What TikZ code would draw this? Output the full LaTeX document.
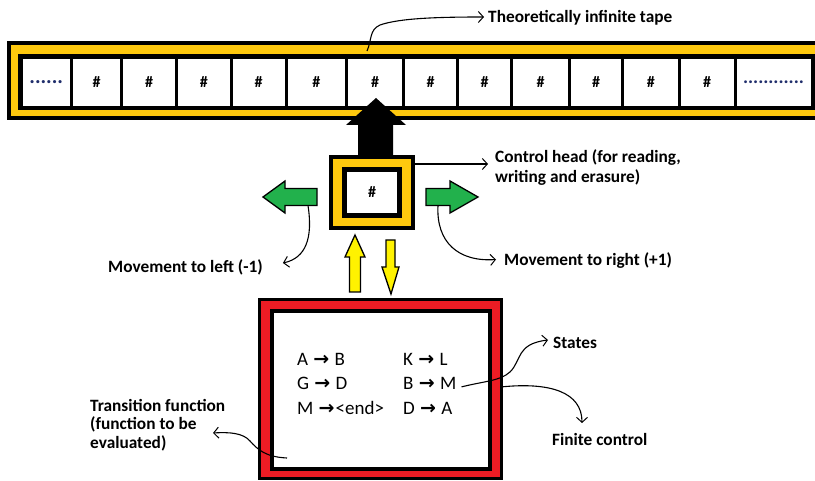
\documentclass[tikz,border=0pt]{standalone}
\usepackage{fontspec}
\setmainfont{Carlito}
\newfontfamily\symfont{DejaVu Sans}
\usetikzlibrary{arrows.meta,calc}
\definecolor{tapeyellow}{HTML}{FFC90E}
\definecolor{arrowyellow}{HTML}{FFF200}
\definecolor{movegreen}{HTML}{22B14C}
\definecolor{boxred}{HTML}{ED1C24}
\definecolor{dotblue}{HTML}{1F2D6B}
\newcommand{\tr}{\kern1pt{\symfont\bfseries\fontsize{19}{20}\selectfont →}\kern1pt}
\begin{document}
\begin{tikzpicture}[x=1pt,y=-1pt,
  lbl/.style={font=\bfseries\fontsize{17.3}{20}\selectfont, inner sep=0pt, align=left},
  cellbox/.style={fill=white, inner sep=0pt, minimum height=47pt, font=\bfseries\fontsize{16}{18}\selectfont},
  rule/.style={anchor=base west, inner sep=0pt, font=\fontsize{19}{22}\selectfont},
  conn/.style={-{Straight Barb[length=5pt,width=11pt,line width=1pt]}, line width=1.1pt},
  shapeline/.style={draw=black, line width=1.3pt, line join=miter}]
\useasboundingbox (0,0) rectangle (815,481);

% ---- tape ----
\begin{scope}
  \clip (0,0) rectangle (815,481);
  \fill[black] (7,41) rectangle (830,120);
  \fill[tapeyellow] (11,45) rectangle (830,116);
  \fill[black] (18,54) rectangle (830,110);
  \foreach \a/\b/\t [count=\i] in {21/71.5/{\textcolor{dotblue}{\fontsize{21}{22}\selectfont......}},
      71.5/121.5/\#, 121.5/176.5/\#, 176.5/231/\#, 231/286/\#, 286/346.5/\#,
      346.5/403.5/\#, 403.5/457.5/\#, 457.5/511.5/\#, 511.5/569.5/\#,
      569.5/622.5/\#, 622.5/679/\#, 679/735/\#,
      735/812/{\textcolor{dotblue}{\fontsize{19}{20}\selectfont............}}}{
    \pgfmathsetmacro{\cx}{(\a+\b)/2}
    \pgfmathsetmacro{\w}{\b-\a-3}
    \node[cellbox, minimum width=\w pt] (cell\i) at (\cx,82.5) {\t};
  }
\end{scope}

% ---- head pointer towards the tape ----
\fill[black] (376,98) -- (406,125) -- (393,125) -- (393,157) -- (358,157)
  -- (358,125) -- (346,125) -- cycle;

% ---- control head ----
\node[draw=black, line width=4pt, fill=tapeyellow, minimum width=82pt,
  minimum height=71pt, inner sep=0pt] (head) at (372,192.5) {};
\node[draw=black, line width=5pt, fill=white, minimum width=55pt,
  minimum height=46pt, inner sep=0pt, font=\bfseries\fontsize{16}{18}\selectfont]
  (headcell) at (372,192.5) {\#};

% ---- movement arrows ----
\draw[shapeline, fill=movegreen] (263,197) -- (285,181) -- (285,188.5) -- (317,188.5)
  -- (317,205.5) -- (285,205.5) -- (285,213) -- cycle;
\draw[shapeline, fill=movegreen] (478,197) -- (450,181) -- (450,188.5) -- (426,188.5)
  -- (426,205.5) -- (450,205.5) -- (450,213) -- cycle;
\coordinate (leftfoot) at (308,205.5);
\coordinate (rightfoot) at (438,205.5);

% ---- read / write arrows ----
\draw[shapeline, fill=arrowyellow] (355,235) -- (365,257) -- (360.5,257) -- (360.5,292)
  -- (349.5,292) -- (349.5,257) -- (345,257) -- cycle;
\draw[shapeline, fill=arrowyellow] (391,294) -- (399,267) -- (395,267) -- (395,240)
  -- (386,240) -- (386,267) -- (382,267) -- cycle;

% ---- finite control ----
\node[draw=black, line width=3pt, fill=boxred, minimum width=242pt,
  minimum height=179pt, inner sep=0pt] (control) at (380.5,389) {};
\node[draw=black, line width=4pt, fill=white, minimum width=218pt,
  minimum height=158pt, inner sep=0pt] (table) at (381,390) {};

\node[rule] (r1) at (297,366) {A \tr{} B};
\node[rule] (r2) at (297,390) {G \tr{} D};
\node[rule] (r3) at (297,414) {M \tr{}<end>};
\node[rule] (r4) at (403,366) {K \tr{} L};
\node[rule] (r5) at (403,390) {B \tr{} M};
\node[rule] (r6) at (403,414) {D \tr{} A};
\coordinate (tfoot) at (287,458);

% ---- labels ----
\node[lbl, anchor=west] (tapelbl) at (488,18) {Theoretically infinite tape};
\node[lbl, anchor=west, font=\bfseries\fontsize{17.3}{19.5}\selectfont] (ctrllbl) at (495,167.5)
  {Control head (for reading,\\writing and erasure)};
\node[lbl, anchor=west] (leftlbl) at (108,267) {Movement to left (-1)};
\node[lbl, anchor=west] (rightlbl) at (504,261) {Movement to right (+1)};
\node[lbl, anchor=west] (stateslbl) at (553,343) {States};
\node[lbl, anchor=west] (finlbl) at (552,439) {Finite control};
\node[lbl, anchor=west, font=\bfseries\fontsize{17.3}{18.3}\selectfont] (translbl) at (90,425)
  {Transition function\\(function to be\\evaluated)};

% ---- connectors ----
\coordinate (tapetop) at (367,51);
\draw[conn, shorten >=4pt] (tapetop) .. controls (372,40) and (369,30) .. (380,25)
  .. controls (400,18) and (440,17) .. (tapelbl.west |- 0,17);
\coordinate (headR) at ($(head.north east)+(0,9)$);
\draw[conn, shorten >=7pt] (headR) -- (headR -| ctrllbl.west);
\draw[conn] (leftfoot) .. controls (313,238) and (306,258) .. ($(leftlbl.east)+(20,-4)$);
\draw[conn, shorten >=8pt] (rightfoot) .. controls (436,242) and (458,262) .. (rightlbl.west |- 0,259);
\coordinate (bmR) at ($(r5.east)+(5,3)$);
\draw[conn] (bmR) .. controls (485,381) and (500,381) .. (510,372)
  .. controls (522,360) and (516,344) .. ($(stateslbl.west)+(-5,-3)$);
\draw[conn] (bmR) ++(40,0) .. controls (550,382) and (582,392) .. ($(finlbl.west)+(30,-16)$);
\draw[conn] (tfoot) .. controls (266,457) and (258,450) .. (250,441)
  .. controls (243,433) and (230,432) .. ($(translbl.west)+(123,8)$);
\end{tikzpicture}
\end{document}
